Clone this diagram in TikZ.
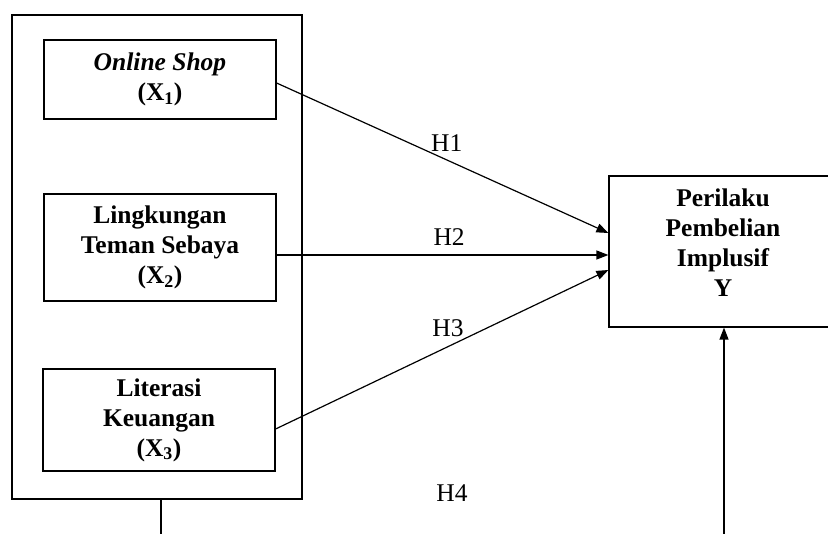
\documentclass[tikz,border=0pt]{standalone}
\usepackage{fontspec}
\setmainfont{Liberation Serif}
\usetikzlibrary{arrows.meta}
\begin{document}
\begin{tikzpicture}[x=1pt,y=-1pt,
  every node/.style={font=\fontsize{25.5}{30}\selectfont, text=black},
  varbox/.style={draw, line width=1.2pt, minimum width=232pt, inner sep=0pt, align=center, font=\fontsize{25.5}{30}\selectfont\bfseries},
  conn/.style={line width=1.2pt, -{Triangle[length=12pt,width=9pt]}},
  plainline/.style={line width=1.2pt}]
\path[use as bounding box, clip] (0,0) rectangle (828,534);
\node[draw, line width=1.2pt, minimum width=290pt, minimum height=484pt, inner sep=0pt] (outer) at (157,257) {};
\node[varbox, minimum height=79pt] (x1) at (160,79.5) {\textit{Online Shop}\\(X\textsubscript{1})};
\node[varbox, minimum height=107pt] (x2) at (160,247.5) {Lingkungan\\Teman Sebaya\\(X\textsubscript{2})};
\node[varbox, minimum height=102pt] (x3) at (159,420) {Literasi\\Keuangan\\(X\textsubscript{3})};
\node[draw, line width=1.2pt, minimum width=228pt, minimum height=151pt, inner sep=0pt] (y) at (723,251.5) {};
\node[anchor=north, align=center, font=\fontsize{25.5}{30}\selectfont\bfseries, inner sep=0pt] (ytext) at ([yshift=-13pt]y.north) {Perilaku\\Pembelian\\Implusif\\Y};
\draw[conn] ([yshift=-3.5pt]x1.east) -- ([yshift=18.5pt]y.west) node[pos=0.513, above=8pt, inner sep=0pt] (h1) {H1};
\draw[conn] ([yshift=-7.5pt]x2.east) -- ([yshift=-3.5pt]y.west) node[pos=0.52, above=9pt, inner sep=0pt] (h2) {H2};
\draw[conn] ([yshift=-9pt]x3.east) -- ([yshift=-18.5pt]y.west) node[pos=0.518, above=9pt, inner sep=0pt] (h3) {H3};
\coordinate (b4) at (161,534);
\draw[plainline] (outer.south -| b4) -- (b4);
\coordinate (y4) at (724,534);
\draw[conn] (y4) -- (y.south -| y4);
\node (h4) at (452,493) {H4};
\end{tikzpicture}
\end{document}
